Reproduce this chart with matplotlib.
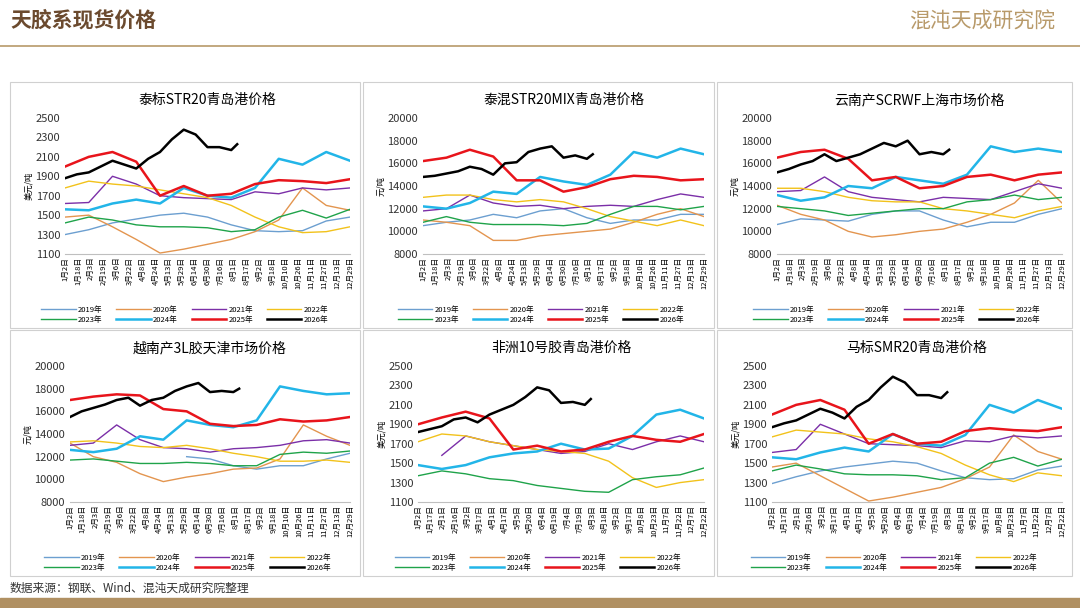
import numpy as np
import matplotlib
matplotlib.use("Agg")
import matplotlib.pyplot as plt
from matplotlib.patches import Rectangle

plt.rcParams['font.family'] = ['Noto Sans CJK SC', 'DejaVu Sans']

years = ["2019年", "2020年", "2021年", "2022年", "2023年", "2024年", "2025年", "2026年"]
colors = ["#6c9fd0", "#e3954f", "#7b2fa8", "#f2c21b", "#1fa34a", "#22b5e8", "#e8141b", "#000000"]
widths = [1.0, 1.0, 1.0, 1.0, 1.0, 1.8, 1.8, 1.8]

# monthly points (Jan 1 .. Dec 1, Dec end) for 2019-2025; half-monthly for 2026 up to early Aug
month_x = list(range(13))
x_2026 = [0, 0.5, 1, 1.5, 2, 2.5, 3, 3.5, 4, 4.5, 5, 5.5, 6, 6.5, 7, 7.25]
nan = np.nan

ticks_a = ["1月2日", "1月18日", "2月3日", "2月19日", "3月6日", "3月22日", "4月8日", "4月24日",
           "5月13日", "5月29日", "6月14日", "6月30日", "7月16日", "8月1日", "8月17日", "9月2日",
           "9月18日", "10月10日", "10月26日", "11月11日", "11月27日", "12月13日", "12月29日"]
ticks_b = ["1月2日", "1月17日", "2月1日", "2月16日", "3月2日", "3月17日", "4月1日", "4月17日",
           "5月5日", "5月20日", "6月4日", "6月19日", "7月4日", "7月19日", "8月3日", "8月18日",
           "9月2日", "9月17日", "10月8日", "10月23日", "11月7日", "11月22日", "12月7日", "12月22日"]

# 泰标STR20
str20_2019 = [1300, 1350, 1420, 1460, 1500, 1520, 1480, 1400, 1340, 1330, 1340, 1440, 1480]
str20_2020 = [1480, 1500, 1380, 1250, 1110, 1150, 1200, 1250, 1330, 1450, 1780, 1600, 1550]
str20_2021 = [1620, 1630, 1900, 1820, 1700, 1680, 1670, 1660, 1740, 1720, 1780, 1760, 1780]
str20_2022 = [1780, 1850, 1820, 1800, 1760, 1720, 1680, 1600, 1480, 1380, 1320, 1330, 1380]
str20_2023 = [1420, 1480, 1450, 1400, 1380, 1380, 1370, 1330, 1350, 1480, 1550, 1470, 1560]
str20_2024 = [1560, 1550, 1620, 1660, 1620, 1780, 1700, 1680, 1780, 2080, 2020, 2150, 2060]
str20_2025 = [2000, 2100, 2150, 2050, 1700, 1800, 1700, 1720, 1820, 1860, 1850, 1830, 1870]
str20_2026 = [1880, 1920, 1940, 2000, 2060, 2020, 1980, 2080, 2150, 2280, 2380, 2330, 2200, 2200, 2170, 2230]

# 泰混STR20MIX
mix_2019 = [10500, 10800, 11000, 11500, 11200, 11800, 12000, 11200, 10700, 11000, 11000, 11500, 11500]
mix_2020 = [11000, 10800, 10500, 9200, 9200, 9600, 9800, 10000, 10200, 10800, 11500, 12000, 11300]
mix_2021 = [11800, 12000, 13200, 12500, 12200, 12300, 12000, 12200, 12300, 12200, 12800, 13300, 13000]
mix_2022 = [13000, 13200, 13200, 12800, 12600, 12800, 12600, 12000, 11300, 10900, 10500, 11000, 10500]
mix_2023 = [10800, 11300, 10800, 10600, 10600, 10600, 10500, 10700, 11500, 12200, 12200, 11900, 12200]
mix_2024 = [12200, 12000, 12500, 13500, 13300, 14800, 14400, 14100, 15000, 17000, 16500, 17300, 16800]
mix_2025 = [16200, 16500, 17200, 16600, 14500, 14500, 13500, 13900, 14600, 14900, 14800, 14500, 14600]
mix_2026 = [14800, 14900, 15100, 15300, 15700, 15500, 15000, 16000, 16100, 17000, 17300, 17500, 16500, 16700, 16400, 16800]

# 云南产SCRWF
scr_2019 = [10600, 11100, 11000, 10900, 11500, 11800, 11800, 11000, 10400, 10800, 10800, 11500, 12000]
scr_2020 = [12300, 11500, 11000, 10000, 9500, 9700, 10000, 10200, 10800, 11500, 12500, 14500, 12500]
scr_2021 = [13500, 13600, 14800, 13500, 13000, 12800, 12600, 13000, 12900, 12800, 13500, 14200, 13800]
scr_2022 = [13800, 13800, 13500, 13000, 12700, 12600, 12600, 12000, 11800, 11500, 11200, 11800, 12200]
scr_2023 = [12200, 12000, 11800, 11400, 11600, 11800, 12000, 12000, 12600, 12800, 13200, 12800, 13000]
scr_2024 = [13200, 12700, 13000, 14000, 13800, 14800, 14500, 14200, 15000, 17500, 17000, 17300, 17000]
scr_2025 = [16500, 17000, 17200, 16400, 14500, 14800, 13800, 14000, 14800, 15000, 14500, 15000, 15200]
scr_2026 = [15200, 15500, 15900, 16200, 16800, 16200, 16500, 16800, 17300, 17800, 17500, 18000, 16800, 17000, 16800, 17200]

# 越南产3L
vn_2019 = [nan, nan, nan, nan, nan, 12000, 11800, 11200, 10900, 11200, 11200, 11800, 12300]
vn_2020 = [13200, 12000, 11500, 10500, 9800, 10200, 10500, 10900, 11000, 11800, 14800, 13800, 13000]
vn_2021 = [13000, 13200, 14800, 13500, 12800, 12700, 12400, 12700, 12800, 13000, 13400, 13500, 13200]
vn_2022 = [13300, 13400, 13200, 12900, 12800, 13000, 12700, 12300, 12000, 11600, 11600, 11700, 11500]
vn_2023 = [11700, 11800, 11600, 11400, 11400, 11500, 11400, 11200, 11200, 12200, 12400, 12300, 12500]
vn_2024 = [12600, 12400, 12700, 13800, 13500, 15200, 14800, 14600, 15200, 18200, 17800, 17500, 17600]
vn_2025 = [17000, 17300, 17500, 17400, 16200, 16000, 14900, 14700, 14800, 15300, 15100, 15200, 15500]
vn_2026 = [15500, 16000, 16300, 16600, 17000, 17200, 16500, 17000, 17200, 17800, 18200, 18500, 17700, 17800, 17700, 18000]

# 非洲10号胶
af_2019 = [nan] * 13
af_2020 = [nan] * 13
af_2021 = [nan, 1580, 1780, 1720, 1680, 1640, 1600, 1620, 1700, 1640, 1720, 1780, 1720]
af_2022 = [1720, 1800, 1780, 1720, 1680, 1640, 1620, 1600, 1520, 1350, 1250, 1300, 1330]
af_2023 = [1370, 1420, 1390, 1340, 1320, 1270, 1240, 1210, 1200, 1330, 1360, 1380, 1450]
af_2024 = [1480, 1440, 1480, 1560, 1600, 1620, 1700, 1640, 1650, 1780, 2000, 2050, 1960]
af_2025 = [1900, 1970, 2030, 1960, 1640, 1680, 1620, 1640, 1720, 1780, 1740, 1720, 1800]
af_2026 = [1820, 1850, 1880, 1950, 1970, 1920, 2000, 2050, 2100, 2180, 2280, 2250, 2120, 2130, 2100, 2160]

# 马标SMR20
smr_2019 = [1290, 1360, 1420, 1460, 1490, 1520, 1500, 1420, 1350, 1330, 1340, 1430, 1470]
smr_2020 = [1460, 1500, 1370, 1240, 1110, 1150, 1200, 1250, 1340, 1460, 1790, 1620, 1540]
smr_2021 = [1610, 1640, 1900, 1800, 1700, 1690, 1680, 1660, 1730, 1720, 1780, 1760, 1780]
smr_2022 = [1770, 1840, 1820, 1800, 1750, 1720, 1670, 1600, 1480, 1380, 1310, 1400, 1370]
smr_2023 = [1420, 1480, 1440, 1390, 1380, 1380, 1370, 1330, 1350, 1500, 1560, 1470, 1540]
smr_2024 = [1560, 1540, 1610, 1660, 1620, 1800, 1700, 1680, 1790, 2100, 2020, 2150, 2060]
smr_2025 = [2000, 2100, 2150, 2050, 1700, 1800, 1700, 1720, 1830, 1860, 1840, 1830, 1870]
smr_2026 = [1870, 1910, 1940, 2000, 2060, 2020, 1960, 2080, 2150, 2280, 2390, 2330, 2200, 2200, 2170, 2230]

panels = [
    ("泰标STR20青岛港价格", "美元/吨", (1100, 2500, 200),
     [str20_2019, str20_2020, str20_2021, str20_2022, str20_2023, str20_2024, str20_2025, str20_2026], ticks_a),
    ("泰混STR20MIX青岛港价格", "元/吨", (8000, 20000, 2000),
     [mix_2019, mix_2020, mix_2021, mix_2022, mix_2023, mix_2024, mix_2025, mix_2026], ticks_a),
    ("云南产SCRWF上海市场价格", "元/吨", (8000, 20000, 2000),
     [scr_2019, scr_2020, scr_2021, scr_2022, scr_2023, scr_2024, scr_2025, scr_2026], ticks_a),
    ("越南产3L胶天津市场价格", "元/吨", (8000, 20000, 2000),
     [vn_2019, vn_2020, vn_2021, vn_2022, vn_2023, vn_2024, vn_2025, vn_2026], ticks_a),
    ("非洲10号胶青岛港价格", "美元/吨", (1100, 2500, 200),
     [af_2019, af_2020, af_2021, af_2022, af_2023, af_2024, af_2025, af_2026], ticks_b),
    ("马标SMR20青岛港价格", "美元/吨", (1100, 2500, 200),
     [smr_2019, smr_2020, smr_2021, smr_2022, smr_2023, smr_2024, smr_2025, smr_2026], ticks_b),
]

W, H = 1080, 608
fig = plt.figure(figsize=(10.8, 6.08), dpi=100)
fig.patch.set_facecolor("white")

# header
fig.text(10 / W, 1 - 20 / H, "天胶系现货价格", fontsize=15, fontweight="bold", color="#6b4a2e", va="center")
fig.add_artist(plt.Line2D([0, 1], [1 - 46 / H, 1 - 46 / H], color="#b89a6a", lw=1.2))
fig.text(1055 / W, 1 - 22 / H, "混沌天成研究院", fontsize=15, color="#b89a6a", ha="right", va="center")
fig.text(10 / W, 1 - 588 / H, "数据来源：钢联、Wind、混沌天成研究院整理", fontsize=8.5, color="#333333", va="center")
fig.add_artist(Rectangle((0, 0), 1, 10 / H, color="#b09062", transform=fig.transFigure))

boxes_x = [10, 363, 717]
boxes_y = [82, 330]
box_w, box_h = [350, 351, 355], 246
order = [0, 4, 1, 5, 2, 6, 3, 7]  # so the legend reads row by row

for i, (title, unit, (lo, hi, step), series, tlabels) in enumerate(panels):
    r, c = divmod(i, 3)
    bx, by = boxes_x[c], boxes_y[r]
    fig.add_artist(Rectangle((bx / W, 1 - (by + box_h) / H), box_w[c] / W, box_h / H,
                             fill=False, ec="#d0d0d0", lw=0.8, transform=fig.transFigure))
    left = bx + (55 if lo < 5000 else 60)
    ax = fig.add_axes([left / W, 1 - (by + 172) / H, (bx + box_w[c] - 10 - left) / W, 136 / H])
    lines = []
    for k in range(8):
        xs = x_2026 if k == 7 else month_x
        lines += ax.plot(xs, series[k], color=colors[k], lw=widths[k], label=years[k])
    ax.set_xlim(0, 12)
    ax.set_ylim(lo, hi)
    ax.set_yticks(np.arange(lo, hi + 1, step))
    ax.tick_params(axis="y", labelsize=8, length=0, colors="#333333")
    ax.set_xticks(np.linspace(0, 12, len(tlabels)))
    ax.set_xticklabels(tlabels, rotation=90, fontsize=5.5)
    ax.tick_params(axis="x", length=0, pad=2)
    for s in ["top", "right", "left"]:
        ax.spines[s].set_visible(False)
    ax.spines["bottom"].set_color("#bfbfbf")
    ax.set_ylabel(unit, fontsize=6, labelpad=2)
    ax.set_title(title, fontsize=10, pad=10)
    ax.legend([lines[j] for j in order], [years[j] for j in order],
              loc="upper center", bbox_to_anchor=(0.42, -0.33), ncol=4, fontsize=5.5,
              frameon=False, handlelength=4.5, handletextpad=0.3, columnspacing=1.8, labelspacing=0.3)

fig.savefig("out.png", dpi=100)
